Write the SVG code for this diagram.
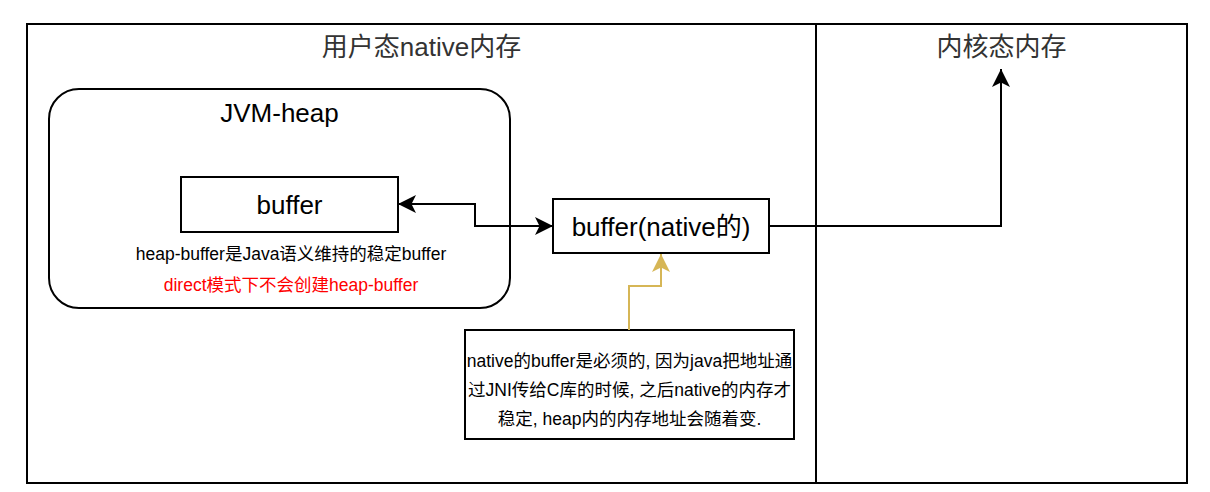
<svg xmlns="http://www.w3.org/2000/svg" width="1210" height="492" viewBox="0 0 1210 492">
<style>
.box{fill:#ffffff;stroke:#000000;stroke-width:2}
.edge{fill:none;stroke:#000000;stroke-width:2}
.yedge{fill:none;stroke:#d6b656;stroke-width:2}
text{font-family:"Liberation Sans","Noto Sans CJK SC",sans-serif;text-anchor:middle}
.title{font-size:26px;fill:#333333}
.big{font-size:26px;fill:#000000}
.small{font-size:17.5px;fill:#000000}
.red{font-size:17.5px;fill:#ff0000}
</style>
<defs>
<marker id="arr" markerUnits="userSpaceOnUse" markerWidth="20" markerHeight="20" viewBox="-19 -10 20 20" refX="0" refY="0" orient="auto-start-reverse">
<path d="M0,0 L-18,-9 L-13.5,0 L-18,9 Z" fill="#000000"/>
</marker>
<marker id="yarr" markerUnits="userSpaceOnUse" markerWidth="20" markerHeight="20" viewBox="-19 -10 20 20" refX="0" refY="0" orient="auto">
<path d="M0,0 L-18,-9 L-13.5,0 L-18,9 Z" fill="#d6b656"/>
</marker>
</defs>
<rect width="1210" height="492" fill="#ffffff"/>
<g id="user-space">
<rect class="box" x="27" y="24" width="789" height="459"/>
<text class="title" x="421.5" y="56">用户态native内存</text>
</g>
<g id="kernel-space">
<rect class="box" x="816" y="24" width="371" height="459"/>
<text class="title" x="1001.5" y="56">内核态内存</text>
</g>
<g id="jvm-heap">
<rect class="box" x="49" y="89" width="461" height="219" rx="30" ry="30"/>
<text class="big" x="279.5" y="122">JVM-heap</text>
<text class="small" x="291" y="260">heap-buffer是Java语义维持的稳定buffer</text>
<text class="red" x="291" y="291">direct模式下不会创建heap-buffer</text>
</g>
<g id="heap-buffer">
<rect class="box" x="181" y="177" width="217" height="55"/>
<text class="big" x="289.5" y="214">buffer</text>
</g>
<g id="native-buffer">
<rect class="box" x="553" y="199" width="216" height="54"/>
<text class="big" x="661" y="236">buffer(native的)</text>
</g>
<g id="note">
<rect class="box" x="465" y="330" width="329" height="109"/>
<text class="small" x="629.5" y="367">native的buffer是必须的, 因为java把地址通</text>
<text class="small" x="629.5" y="396">过JNI传给C库的时候, 之后native的内存才</text>
<text class="small" x="629.5" y="425">稳定, heap内的内存地址会随着变.</text>
</g>
<g id="connectors">
<path class="edge" d="M398,204 L475,204 L475,226 L553,226" marker-start="url(#arr)" marker-end="url(#arr)"/>
<path class="edge" d="M769,226 L1001,226 L1001,69" marker-end="url(#arr)"/>
<path class="yedge" d="M629,330 L629,286 L661,286 L661,254" marker-end="url(#yarr)"/>
</g>
</svg>
